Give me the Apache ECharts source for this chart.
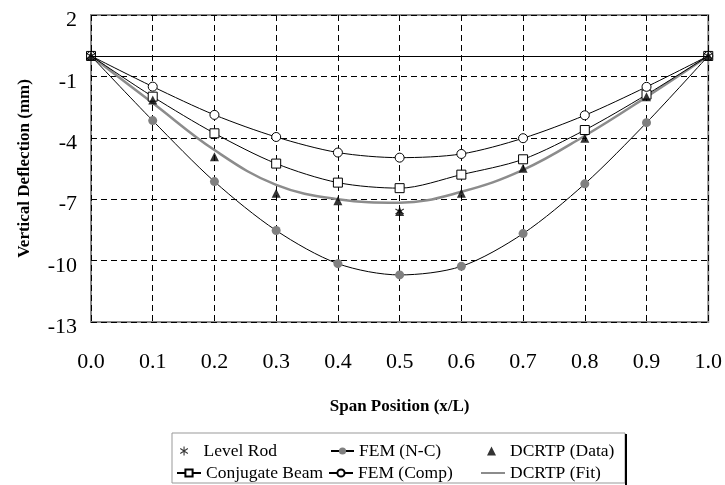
<!DOCTYPE html>
<html>
<head>
<meta charset="utf-8">
<script src="https://cdn.jsdelivr.net/npm/echarts@6/dist/echarts.min.js"></script>
<style>
  html, body { margin: 0; padding: 0; background: #fff; }
  #chart { width: 725px; height: 485px; }
</style>
</head>
<body>
<div id="chart"></div>
<script>
    // span positions (x/L)
    let spanPos = [0.0, 0.1, 0.2, 0.3, 0.4, 0.5, 0.6, 0.7, 0.8, 0.9, 1.0];
    let yTicks = [-13, -10, -7, -4, -1, 2];

    // deflections (mm)
    let levelRod      = [[0.0, 0], [0.5, -7.6], [1.0, 0]];
    let femNC         = [0, -3.16, -6.14, -8.53, -10.15, -10.70, -10.28, -8.68, -6.25, -3.26, 0];
    let conjugateBeam = [0, -1.99, -3.78, -5.26, -6.19, -6.46, -5.80, -5.05, -3.62, -1.89, 0];
    let femComp       = [0, -1.50, -2.88, -3.96, -4.72, -4.97, -4.79, -4.02, -2.90, -1.51, 0];
    let dcrtpData     = [0, -2.15, -4.92, -6.71, -7.07, -7.60, -6.71, -5.49, -4.02, -2.00, 0];
    let dcrtpFit      = [0, -2.30, -4.60, -6.30, -7.00, -7.17, -6.64, -5.57, -3.90, -2.00, 0];

    let pair = function(vals){
        return vals.map((v, i) => [spanPos[i], v]);
    };

    let serif = 'Liberation Serif';
    let asterisk = 'path://M4.4,0L5.6,0L5.6,10L4.4,10Z M0.5,2.8L1.1,1.8L9.5,7.2L8.9,8.2Z M8.9,1.8L9.5,2.8L1.1,8.2L0.5,7.2Z';
    let flatLine = 'path://M0,0L24,0L24,2L0,2Z';

    // one legend per entry so the two rows line up like the original box
    let legendItem = function(item, left, top, w, textPad){
        return {
            data: [item],
            left: left,
            top: top,
            padding: 0,
            itemWidth: w,
            itemHeight: 9,
            textStyle: {
                fontFamily: serif, fontSize: 17.5, color: '#000',
                padding: [0, 0, 0, textPad || 0]
            }
        };
    };

    let chart = echarts.init(document.getElementById('chart'));

    let opts = {
        animation: false,
        grid: {
            left: 91, right: 15, top: 15, bottom: 163,
            show: true,
            borderColor: '#8a8a8a',
            borderWidth: 2,
            backgroundColor: 'transparent'
        },
        xAxis: {
            type: 'value',
            min: 0, max: 1, interval: 0.1,
            name: 'Span Position (x/L)',
            nameLocation: 'middle',
            nameGap: 76,
            nameTextStyle: { fontFamily: serif, fontSize: 17, fontWeight: 'bold', color: '#000' },
            axisLine: { show: false },
            axisTick: { show: false },
            axisLabel: {
                fontFamily: serif, fontSize: 22, color: '#000', margin: 29,
                formatter: function(v){ return v.toFixed(1); }
            },
            splitLine: { show: true, lineStyle: { color: '#000', width: 1, type: [6, 4] } }
        },
        yAxis: {
            type: 'value',
            min: -13, max: 2,
            name: 'Vertical Deflection (mm)',
            nameLocation: 'middle',
            nameGap: 58,
            nameTextStyle: { fontFamily: serif, fontSize: 17, fontWeight: 'bold', color: '#000' },
            axisLine: { show: false },
            axisTick: { show: false, customValues: yTicks },
            axisLabel: {
                color: '#000', margin: 14,
                customValues: yTicks,
                formatter: function(v){ return '{p|' + v + '}'; },
                rich: {
                    p: { fontFamily: serif, fontSize: 22, color: '#000', padding: [11, 0, 0, 0] }
                }
            },
            splitLine: { show: true, lineStyle: { color: '#000', width: 1, type: [6, 4] } }
        },
        legend: [
            legendItem({ name: 'Level Rod', icon: asterisk }, 180, 442, 9, 10),
            legendItem({ name: 'FEM (N-C)' }, 330, 442, 23),
            legendItem({ name: 'DCRTP (Data)', icon: 'triangle' }, 487, 442, 9, 9),
            legendItem({ name: 'Conjugate Beam' }, 176, 464, 24),
            legendItem({ name: 'FEM (Comp)' }, 328, 464, 24),
            legendItem({ name: 'DCRTP (Fit)', icon: flatLine }, 481, 464, 24)
        ],
        graphic: [
            {
                type: 'rect',
                shape: { x: 172, y: 433, width: 453, height: 50 },
                style: { fill: 'none', stroke: '#999', lineWidth: 1 },
                z: -1
            },
            {
                type: 'line',
                shape: { x1: 626, y1: 434, x2: 626, y2: 485 },
                style: { stroke: '#000', lineWidth: 2 }
            }
        ],
        series: [
            {
                name: 'FEM (N-C)',
                type: 'line',
                data: pair(femNC),
                smooth: 0.3,
                symbol: 'circle',
                symbolSize: 9,
                lineStyle: { color: '#000', width: 1 },
                itemStyle: { color: '#808080', borderColor: '#808080', borderWidth: 0 },
                z: 2,
                markLine: {
                    silent: true,
                    symbol: 'none',
                    label: { show: false },
                    lineStyle: { color: '#000', width: 1, type: 'solid' },
                    data: [{ yAxis: 0 }]
                }
            },
            {
                name: 'DCRTP (Fit)',
                type: 'line',
                data: pair(dcrtpFit),
                smooth: 0.4,
                showSymbol: false,
                symbol: 'none',
                lineStyle: { color: '#8c8c8c', width: 2.5 },
                itemStyle: { color: '#8c8c8c' },
                z: 1
            },
            {
                name: 'Conjugate Beam',
                type: 'line',
                data: pair(conjugateBeam),
                smooth: 0.3,
                symbol: 'rect',
                symbolSize: 9,
                lineStyle: { color: '#000', width: 1 },
                itemStyle: { color: '#fff', borderColor: '#000', borderWidth: 1 },
                z: 3
            },
            {
                name: 'FEM (Comp)',
                type: 'line',
                data: pair(femComp),
                smooth: 0.3,
                symbol: 'circle',
                symbolSize: 9,
                lineStyle: { color: '#000', width: 1 },
                itemStyle: { color: '#fff', borderColor: '#000', borderWidth: 1 },
                z: 4
            },
            {
                name: 'DCRTP (Data)',
                type: 'scatter',
                data: pair(dcrtpData),
                symbol: 'triangle',
                symbolSize: 9,
                itemStyle: { color: '#000' },
                z: 5
            },
            {
                name: 'Level Rod',
                type: 'scatter',
                data: levelRod,
                symbol: asterisk,
                symbolSize: 9,
                itemStyle: { color: '#000' },
                z: 6
            }
        ]
    };

    chart.setOption(opts);
</script>
</body>
</html>
